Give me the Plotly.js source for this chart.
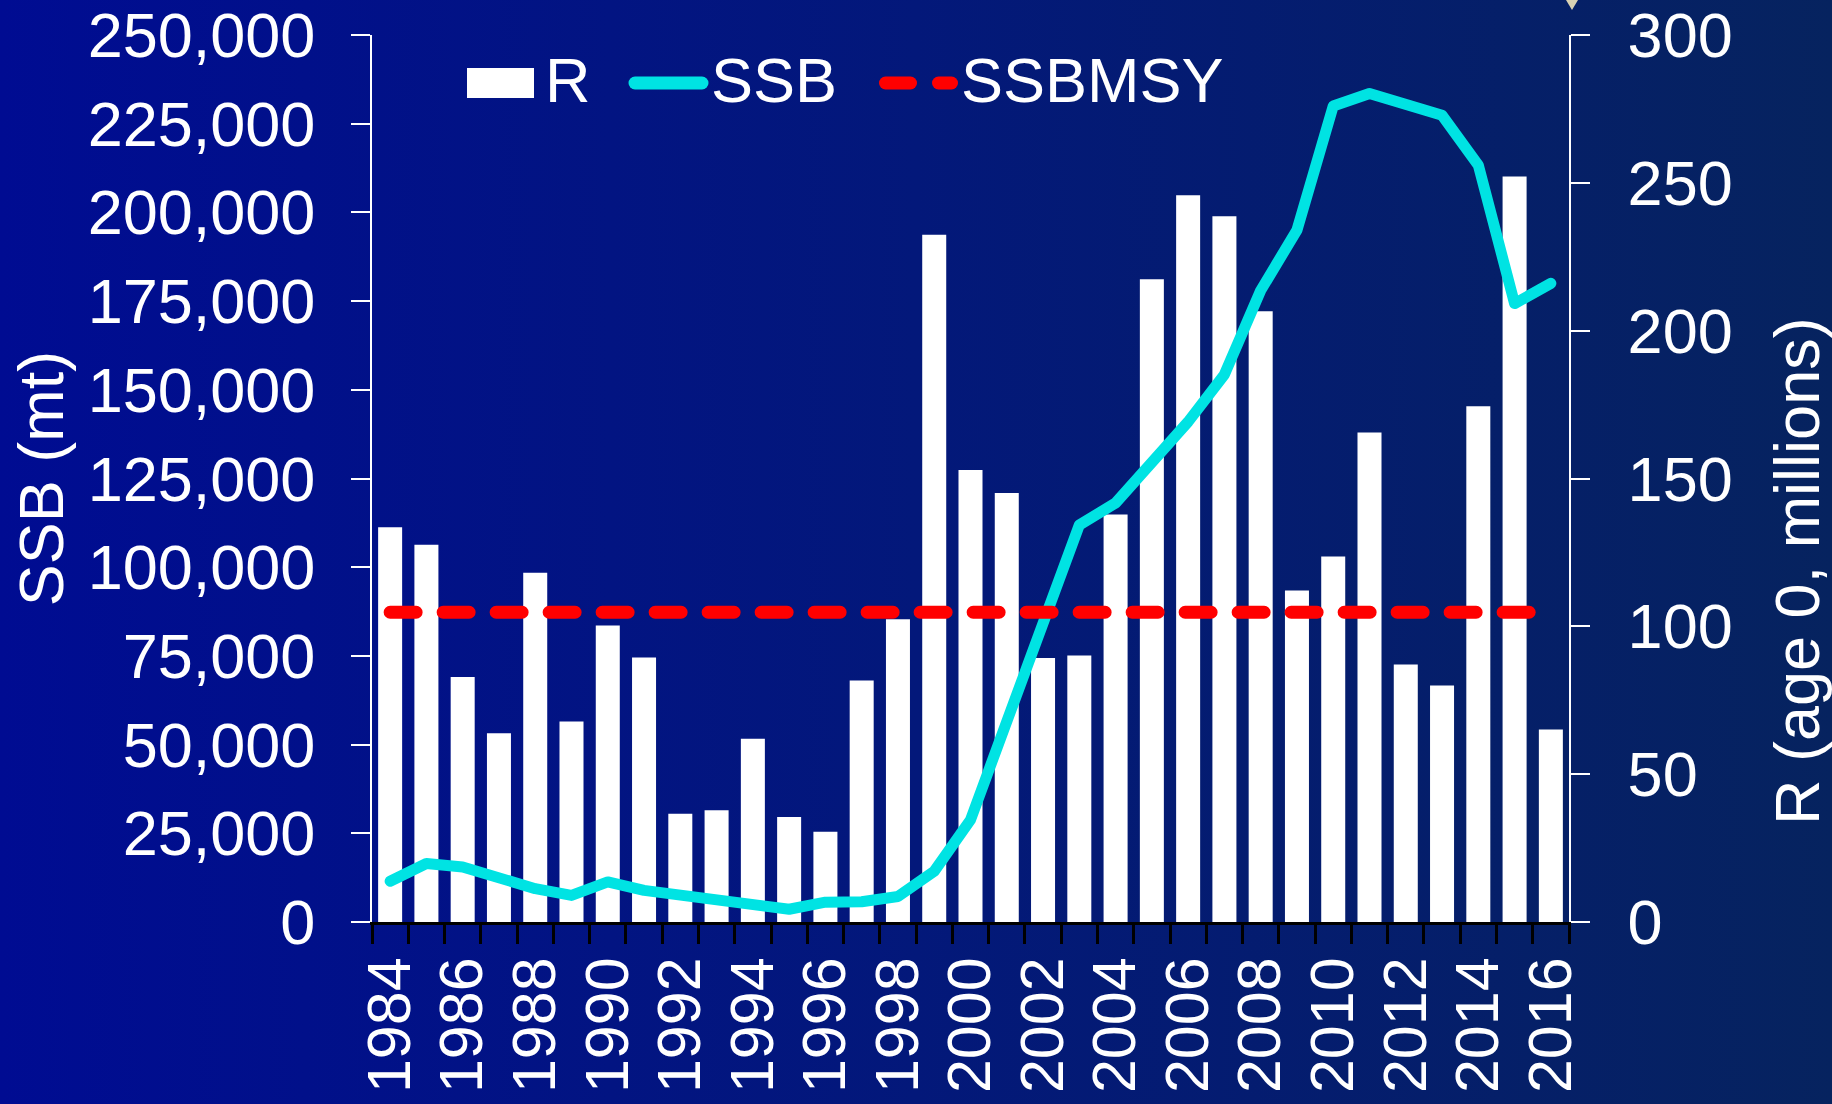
<!DOCTYPE html>
<html>
<head>
<meta charset="utf-8">
<script src="https://cdn.plot.ly/plotly-3.0.1.min.js"></script>
<style>
  html, body { margin:0; padding:0; }
  body { width:1832px; height:1104px; overflow:hidden;
         background: linear-gradient(90deg, rgb(0,12,146) 0%, rgb(3,24,122) 50%, rgb(6,35,95) 100%); }
  #chart { width:1832px; height:1104px; }
  .scatterlayer .js-line { stroke-linecap: round; stroke-linejoin: round; }
  .shapelayer path { stroke-linecap: round; }
</style>
</head>
<body>
<div id="chart"></div>
<script>
// ---- data ----
const years = [1984,1985,1986,1987,1988,1989,1990,1991,1992,1993,1994,1995,1996,1997,1998,1999,
               2000,2001,2002,2003,2004,2005,2006,2007,2008,2009,2010,2011,2012,2013,2014,2015,2016];
// Recruitment (age 0, millions) - bars, right axis
const recruitment = [133.5,127.6,82.9,63.8,118.1,67.8,100.3,89.5,36.6,37.8,62.0,35.5,30.5,81.7,102.4,232.4,
                     152.9,145.1,89.3,90.1,137.8,217.4,245.8,238.7,206.6,112.1,123.6,165.6,87.1,80.0,174.4,252.1,65.1];
// Spawning stock biomass (mt) - line, left axis
const ssb = [11500,16500,15500,12300,9400,7500,11300,8900,7500,6100,4300,3600,5600,5700,7200,14300,
             28800,57000,85000,111900,118100,129500,141000,154300,178000,195000,230000,233500,230500,227400,213300,174300,180000];
// SSB at MSY reference level (mt)
const ssbMsy = 87300;
const xTickLabels = ['1984','1986','1988','1990','1992','1994','1996','1998','2000','2002','2004','2006','2008','2010','2012','2014','2016'];
const legendNames = ['R','SSB','SSBMSY'];

// ---- layout geometry ----
const W = 1832, H = 1104;
const L = 372, Rr = 1569, T = 35, B = 922;
const PW = Rr - L, PH = B - T;
const px = X => (X - L) / PW;
const py = Y => (B - Y) / PH;
const FONT = 'Liberation Sans, Arial, Helvetica, sans-serif';
const WHITE = '#ffffff';

const xTickVals = xTickLabels.map(Number);
const boundaries = years.map(y => y - 0.5).concat([years[years.length - 1] + 0.5]);

const traces = [
  { type:'bar', name:legendNames[0], x:years, y:recruitment, xaxis:'x', yaxis:'y',
    marker:{color:WHITE, line:{width:0}}, showlegend:false, hoverinfo:'x+y' },
  { type:'scatter', mode:'lines', name:legendNames[1], x:years, y:ssb, xaxis:'x', yaxis:'y2',
    line:{color:'#00e3e3', width:11}, showlegend:false },
  { type:'scatter', mode:'lines', name:legendNames[2], x:years, y:years.map(() => ssbMsy), xaxis:'x', yaxis:'y2',
    line:{color:'#ff0000', width:13, dash:'26px,27px'}, showlegend:false }
];

const tickStyle = { ticks:'outside', ticklen:19, tickwidth:2, tickcolor:WHITE,
                    showline:true, linecolor:WHITE, linewidth:2, showgrid:false, zeroline:false,
                    tickfont:{family:FONT, size:63, color:WHITE}, automargin:false, fixedrange:true };

// custom legend (large symbols like the reference)
const legY = 83;
const shapes = [
  { type:'rect', xref:'paper', yref:'paper', x0:px(467), x1:px(534), y0:py(98), y1:py(68),
    fillcolor:WHITE, line:{width:0} },
  { type:'line', xref:'paper', yref:'paper', x0:px(635), x1:px(702), y0:py(legY), y1:py(legY),
    line:{color:'#00e3e3', width:13} },
  { type:'line', xref:'paper', yref:'paper', x0:px(885.5), x1:px(910.5), y0:py(legY), y1:py(legY),
    line:{color:'#ff0000', width:13} },
  { type:'line', xref:'paper', yref:'paper', x0:px(938.5), x1:px(951.5), y0:py(legY), y1:py(legY),
    line:{color:'#ff0000', width:13} },
  // small beige pointer glyph at the top edge
  { type:'path', xref:'paper', yref:'paper',
    path:'M ' + px(1566) + ' ' + py(0) + ' L ' + px(1578) + ' ' + py(0) + ' L ' + px(1572) + ' ' + py(10) + ' Z',
    fillcolor:'#d9d2b4', line:{width:0} }
];
const legFont = {family:FONT, size:63, color:WHITE};
const annotations = [
  { text:legendNames[0], xref:'paper', yref:'paper', x:px(543), y:py(80), xanchor:'left', yanchor:'middle', showarrow:false, font:legFont },
  { text:legendNames[1], xref:'paper', yref:'paper', x:px(709), y:py(80), xanchor:'left', yanchor:'middle', showarrow:false, font:legFont },
  { text:legendNames[2], xref:'paper', yref:'paper', x:px(959), y:py(80), xanchor:'left', yanchor:'middle', showarrow:false, font:legFont },
  { text:'R (age 0, millions)', xref:'paper', yref:'paper', x:px(1797), y:py(571), xanchor:'center', yanchor:'middle',
    textangle:-90, showarrow:false, font:{family:FONT, size:63, color:WHITE} }
];

const layout = {
  width:W, height:H,
  margin:{l:L, r:W - Rr, t:T, b:H - B, pad:0},
  paper_bgcolor:'rgba(0,0,0,0)', plot_bgcolor:'rgba(0,0,0,0)',
  font:{family:FONT, color:WHITE},
  showlegend:false,
  bargap:0.338,
  xaxis:{ type:'linear', range:[boundaries[0], boundaries[boundaries.length-1]],
          tickmode:'array', tickvals:xTickVals, ticktext:xTickLabels, ticks:'', tickangle:-90,
          tickfont:{family:FONT, size:61, color:WHITE}, ticklabelstandoff:8,
          showline:true, linecolor:'#000000', linewidth:3, showgrid:false, zeroline:false,
          minor:{tickmode:'array', tickvals:boundaries, ticks:'outside', ticklen:19, tickwidth:3, tickcolor:'#000000', showgrid:false},
          automargin:false, fixedrange:true, anchor:'y' },
  yaxis: Object.assign({}, tickStyle, { side:'right', range:[0,300], tickmode:'linear', tick0:0, dtick:50,
          anchor:'x', ticklabelstandoff:25 }),
  yaxis2: Object.assign({}, tickStyle, { side:'left', overlaying:'y', range:[0,250000], tickmode:'linear', tick0:0, dtick:25000,
          tickformat:',d', anchor:'x', ticklabelstandoff:23,
          title:{text:'SSB (mt)', font:{family:FONT, size:63, color:WHITE}, standoff:4} }),
  shapes:shapes,
  annotations:annotations
};

Plotly.newPlot('chart', traces, layout, {displayModeBar:false, staticPlot:true});
</script>
</body>
</html>
